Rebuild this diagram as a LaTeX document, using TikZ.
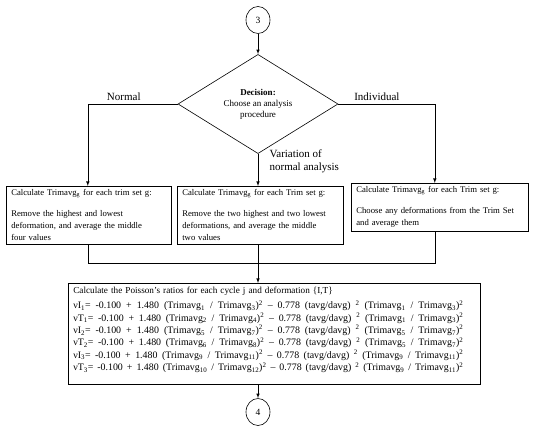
\documentclass[tikz,border=0pt]{standalone}
\usepackage{fontspec}
\setmainfont{Liberation Serif}
\usetikzlibrary{shapes.geometric}

\newcommand{\trimg}[1]{Trimavg\textsubscript{#1}}
\newcommand{\sq}{\textsuperscript{2}}
\newcommand{\fline}[1]{\leavevmode\hbox to 390pt{\fontsize{9.9}{12.4}\selectfont\spaceskip=0.25em plus 1fil\relax #1}}

\tikzset{
  stepbox/.style={draw, rectangle, anchor=north west, align=left, inner xsep=5pt, inner ysep=3.5pt,
    font=\fontsize{8.7}{12}\selectfont},
  connector/.style={draw, ellipse, minimum width=24pt, minimum height=27pt, inner sep=0pt,
    font=\fontsize{9.5}{11}\selectfont},
  lbl/.style={font=\fontsize{11}{13}\selectfont}
}

\begin{document}
\begin{tikzpicture}[x=1pt, y=-1pt, >=latex, line width=0.6pt]
        \useasboundingbox (0,0) rectangle (536,428);
        % connectors
        \node[connector] (c3) at (258,20) {3};
        \node[connector] (c4) at (258,412) {4};
        % decision
        \node[draw, diamond, minimum width=160pt, minimum height=86pt, inner sep=0pt, align=center,
              font=\fontsize{9}{11}\selectfont] (dec) at (258,104)
              {\textbf{Decision:}\\Choose an analysis\\procedure};
        % trim boxes
        \node[stepbox, text width=155pt] (b1) at (6,186)
              {Calculate \trimg{g} for each trim set g:\\[9pt]
               Remove the highest and lowest\\deformation, and average the middle\\four values};
        \node[stepbox, text width=156pt] (b2) at (177,186)
              {Calculate \trimg{g} for each Trim set g:\\[9pt]
               Remove the two highest and two lowest\\deformations, and average the middle\\two values};
        \node[stepbox, text width=167pt] (b3) at (351,183)
              {Calculate \trimg{g} for each Trim set g:\\[9pt]
               Choose any deformations from the Trim Set\\and average them};
        % Poisson's ratios
        \node[stepbox, text width=402pt, inner ysep=4pt, font=\fontsize{9.2}{12.4}\selectfont] (calc) at (68,283)
              {Calculate the Poisson's ratios for each cycle j and deformation \{I,T\}\\[2.6pt]
               \fline{νI\textsubscript{1}= -0.100 + 1.480 (\trimg{1} / \trimg{3})\sq{} – 0.778 (tavg/davg) \sq{} (\trimg{1} / \trimg{3})\sq}\\
               \fline{νT\textsubscript{1}= -0.100 + 1.480 (\trimg{2} / \trimg{4})\sq{} – 0.778 (tavg/davg) \sq{} (\trimg{1} / \trimg{3})\sq}\\
               \fline{νI\textsubscript{2}= -0.100 + 1.480 (\trimg{5} / \trimg{7})\sq{} – 0.778 (tavg/davg) \sq{} (\trimg{5} / \trimg{7})\sq}\\
               \fline{νT\textsubscript{2}= -0.100 + 1.480 (\trimg{6} / \trimg{8})\sq{} – 0.778 (tavg/davg) \sq{} (\trimg{5} / \trimg{7})\sq}\\
               \fline{νI\textsubscript{3}= -0.100 + 1.480 (\trimg{9} / \trimg{11})\sq{} – 0.778 (tavg/davg) \sq{} (\trimg{9} / \trimg{11})\sq}\\
               \fline{νT\textsubscript{3}= -0.100 + 1.480 (\trimg{10} / \trimg{12})\sq{} – 0.778 (tavg/davg) \sq{} (\trimg{9} / \trimg{11})\sq}\\[-3pt]
               \mbox{}};
        \coordinate (join) at (258,263);
        % lines
        \draw [->] (c3) -- (dec);
        \draw [->] (dec.west) -| node[lbl, above, pos=0.3] {Normal} ([xshift=-1pt]b1.north);
        \draw [->] (dec.east) -| node[lbl, above, pos=0.2] {Individual} ([xshift=-5pt]b3.north);
        \draw [->] (dec.south) -- (dec.south |- b2.north);
        \node[lbl, anchor=north west, align=left] (var) at (266,146) {Variation of\\normal analysis};
        \draw ([xshift=-1pt]b1.south) |- (join);
        \draw ([xshift=-5pt]b3.south) |- (join);
        \draw (b2.south -| join) -- (join);
        \draw [->] (join) -- (join |- calc.north);
        \draw [->] (calc.south -| c4) -- (c4);
    \end{tikzpicture}
\end{document}
